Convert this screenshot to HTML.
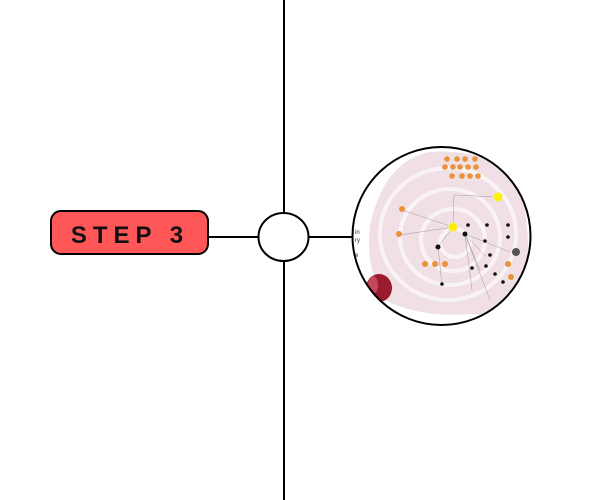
<!DOCTYPE html>
<html><head><style>body{margin:0;background:#fff}svg{display:block}</style></head><body>
<svg width="600" height="500" viewBox="0 0 600 500" xmlns="http://www.w3.org/2000/svg">
<line x1="284" y1="0" x2="284" y2="213" stroke="#000" stroke-width="2"/>
<line x1="284" y1="261" x2="284" y2="500" stroke="#000" stroke-width="2"/>
<line x1="208" y1="237" x2="258" y2="237" stroke="#000" stroke-width="2"/>
<line x1="309" y1="237" x2="354" y2="237" stroke="#000" stroke-width="2"/>
<rect x="51" y="211" width="157" height="43" rx="10" fill="#ff5757" stroke="#000" stroke-width="2"/>
<text x="130" y="243" text-anchor="middle" font-family="Liberation Sans, sans-serif" font-weight="bold" font-size="24" letter-spacing="6" fill="#111">STEP 3</text>
<ellipse cx="283.5" cy="237" rx="25" ry="24" fill="#fff" stroke="#000" stroke-width="2"/>
<defs><clipPath id="c"><circle cx="441.5" cy="236" r="89"/></clipPath></defs>
<g clip-path="url(#c)">
<rect x="340" y="140" width="210" height="200" fill="#fff"/>
<path d="M430 152 Q505 148 522 195 Q534 250 522 290 Q505 318 470 314 Q420 318 385 300 Q365 270 370 225 Q385 160 430 152Z" fill="#f0e0e5"/>
<g fill="none" stroke="#faf3f5" stroke-width="4">
<ellipse cx="455" cy="243" rx="15" ry="14"/>
<ellipse cx="453" cy="240" rx="32" ry="31"/>
<ellipse cx="450" cy="237" rx="50" ry="48"/>
<ellipse cx="448" cy="234" rx="68" ry="66"/>
</g>
<g stroke="#888" stroke-width="0.4">
<line x1="453" y1="227" x2="402" y2="210"/><line x1="453" y1="227" x2="400" y2="235"/>
<line x1="453" y1="227" x2="454" y2="195"/><line x1="453" y1="227" x2="438" y2="247"/>
<line x1="465" y1="234" x2="480" y2="270"/><line x1="465" y1="234" x2="490" y2="300"/>
<line x1="465" y1="234" x2="510" y2="252"/><line x1="454" y1="195" x2="498" y2="197"/>
<line x1="465" y1="234" x2="472" y2="290"/><line x1="465" y1="234" x2="485" y2="256"/>
<line x1="438" y1="247" x2="442" y2="285"/>
</g>
<g fill="#e8923a">
<circle cx="447" cy="159" r="2.8"/><circle cx="457" cy="159" r="2.8"/><circle cx="465" cy="159" r="2.8"/><circle cx="475" cy="159" r="2.8"/>
<circle cx="445" cy="167" r="2.8"/><circle cx="453" cy="167" r="2.8"/><circle cx="460" cy="167" r="2.8"/><circle cx="468" cy="167" r="2.8"/><circle cx="476" cy="167" r="2.8"/>
<circle cx="452" cy="176" r="2.8"/><circle cx="462" cy="176" r="2.8"/><circle cx="470" cy="176" r="2.8"/><circle cx="478" cy="176" r="2.8"/>
<circle cx="402" cy="209" r="3"/><circle cx="399" cy="234" r="3"/>
<circle cx="425" cy="264" r="3"/><circle cx="435" cy="264" r="3"/><circle cx="445" cy="264" r="3"/>
<circle cx="508" cy="264" r="3"/><circle cx="511" cy="277" r="3"/>
</g>
<circle cx="453" cy="227" r="4.5" fill="#ffee00" stroke="#f5e9a0"/><circle cx="498" cy="197" r="4.5" fill="#ffee00" stroke="#f5e9a0"/>
<g fill="#111">
<circle cx="438" cy="247" r="2.5"/><circle cx="465" cy="234" r="2.5"/><circle cx="468" cy="225" r="1.8"/><circle cx="487" cy="225" r="1.8"/><circle cx="508" cy="225" r="1.8"/>
<circle cx="508" cy="237" r="1.8"/><circle cx="485" cy="241" r="1.8"/><circle cx="490" cy="255" r="1.8"/><circle cx="486" cy="266" r="1.8"/>
<circle cx="495" cy="274" r="1.8"/><circle cx="503" cy="282" r="1.8"/><circle cx="442" cy="284" r="1.8"/><circle cx="472" cy="268" r="1.8"/>
</g>
<circle cx="516" cy="252" r="4" fill="#555"/>
<ellipse cx="379" cy="288" rx="13" ry="14" fill="#9a1a2e"/>
<ellipse cx="373" cy="285" rx="5" ry="9" fill="#c0485a"/>
</g>
<circle cx="441.5" cy="236" r="89" fill="none" stroke="#000" stroke-width="2"/>
<text x="355" y="234" font-family="Liberation Sans, sans-serif" font-size="6" fill="#333">in</text>
<text x="355" y="242" font-family="Liberation Sans, sans-serif" font-size="6" fill="#333">ry</text>
<text x="355" y="257" font-family="Liberation Sans, sans-serif" font-size="6" fill="#333">e</text>
</svg>
</body></html>
